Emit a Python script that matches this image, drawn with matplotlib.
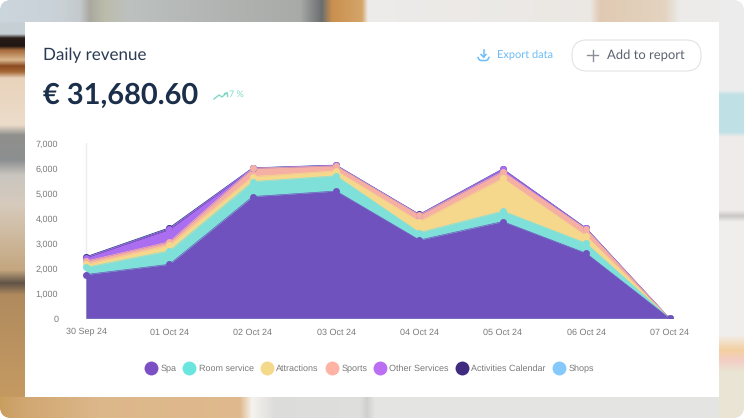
import numpy as np
import matplotlib.pyplot as plt
from matplotlib.pyplot import figure
from matplotlib.colors import to_rgb
from matplotlib.patches import FancyBboxPatch
from matplotlib.lines import Line2D

plt.rcParams['text.hinting'] = 'no_hinting'
plt.rcParams['text.hinting_factor'] = 1

days = ['30 Sep 24', '01 Oct 24', '02 Oct 24', '03 Oct 24', '04 Oct 24', '05 Oct 24', '06 Oct 24', '07 Oct 24']
names = ['Spa', 'Room service', 'Attractions', 'Sports', 'Other Services', 'Activities Calendar', 'Shops']
colors = ['#6f52bd', '#7fe0da', '#f5d88c', '#f5b0a3', '#ab6ef0', '#3b2a7d', '#85c8fb']
legend_colors = ['#7c4fc4', '#6be6df', '#f5d98a', '#ffb3a5', '#bb6ef2', '#3f2c80', '#85c8fb']
revenue = np.array([
    [1750, 2160, 4870, 5090, 3130, 3870, 2600, 0],
    [290, 540, 600, 610, 300, 420, 400, 0],
    [120, 230, 200, 200, 440, 1310, 290, 0],
    [130, 130, 330, 200, 260, 270, 280, 0],
    [140, 500, 10, 20, 20, 100, 30, 0],
    [30, 60, 5, 5, 5, 5, 5, 0],
    [0, 0, 10, 10, 5, 5, 5, 0],
])


# blurred photo behind the card, one strip per margin, colour blended pixel by pixel
def strip(nodes, x0, x1, y0, y1, vertical, clip):
    pos = [n[0] for n in nodes]
    rgb = np.array([to_rgb(n[1]) for n in nodes])
    edges = np.arange(pos[0], pos[-1] + 1)
    mid = (edges[:-1] + edges[1:]) / 2
    shades = np.stack([np.interp(mid, pos, rgb[:, k]) for k in range(3)], axis=1)
    if vertical:
        mesh = plt.pcolormesh([x0, x1], edges, shades[:, None, :])
    else:
        mesh = plt.pcolormesh(edges, [y0, y1], shades[None, :, :])
    mesh.set_clip_path(clip)


figure(figsize=(7.44, 4.18), dpi=100)
plt.axes([0, 0, 1, 1])
plt.xlim(0, 744)
plt.ylim(418, 0)
plt.axis('off')
photo = FancyBboxPatch((10, 10), 724, 398, boxstyle='round,pad=10,rounding_size=12', fc='white', ec='none')
plt.gca().add_patch(photo)

strip([(0, '#c9d3da'), (34, '#c4ced3'), (38, '#2a1d18'), (46, '#1f1512'), (50, '#a5683a'), (60, '#d9b68c'),
       (66, '#8a4a20'), (72, '#a86a38'), (78, '#e8d2bb'), (125, '#ebdcca'), (135, '#8f8f8c'), (160, '#8c8f90'),
       (175, '#c9c5bf'), (205, '#d6cabb'), (270, '#c4a67f'), (283, '#5f5346'), (295, '#b08a5e'), (418, '#c99d62')],
      0, 25, 0, 418, True, photo)
strip([(0, '#cbd5dc'), (60, '#c9d1d7'), (80, '#c3c9cc'), (90, '#a9a89f'), (105, '#bcbcab'), (130, '#bcc0bf'),
       (200, '#b3b6b4'), (300, '#a8aaa8'), (322, '#6a6d6e'), (332, '#c98f4e'), (362, '#d4a468'), (368, '#ecebe9'),
       (590, '#ebe7e3'), (600, '#e0c9b2'), (665, '#e3d3c0'), (680, '#ecebe9'), (744, '#ecebe9')],
      0, 744, 0, 22, False, photo)
strip([(0, '#c99d5e'), (22, '#d0a670'), (100, '#dcb78a'), (240, '#dfb98d'), (252, '#f4f2ee'), (275, '#dcdcda'),
       (360, '#dededc'), (367, '#cfcfcd'), (375, '#e4e4e2'), (744, '#e4e4e2')],
      0, 744, 397, 418, False, photo)
strip([(0, '#ececec'), (90, '#ececec'), (95, '#bfe0e4'), (132, '#bfe0e4'), (137, '#efebea'), (210, '#efebea'),
       (216, '#c9c7c5'), (222, '#f0eeec'), (335, '#f0eeec'), (350, '#f3cf9f'), (360, '#f3cdc4'), (372, '#e9e4d3'),
       (418, '#e9e4d3')], 719, 744, 0, 418, True, photo)

plt.gca().add_patch(FancyBboxPatch((31, 28), 682, 363, boxstyle='round,pad=6,rounding_size=6', fc='white', ec='none', zorder=3))

# header
plt.text(43, 55.5, 'Daily revenue', family='Lato', fontsize=12.4, color='#2a3a52', va='center', zorder=4)
plt.text(43, 95.5, '€ 31,680.60', family='Lato', fontsize=20.8, weight='bold', color='#1b2f4b', va='center', zorder=4)
plt.plot([214, 219, 222, 227], [99, 95, 97, 92.5], color='#7fd8c5', lw=1, zorder=4)
plt.plot([223.5, 227, 227], [92.5, 92.5, 96], color='#7fd8c5', lw=1, zorder=4)
plt.text(229, 94.5, '7 %', family='Lato', fontsize=6.8, color='#7fd8c5', va='center', zorder=4)

# export link and button
plt.plot([478, 479.5, 481, 486, 487.5, 489], [57.5, 60, 60.5, 60.5, 60, 57.5], color='#6cbcf7', lw=1.1, zorder=4)
plt.plot([483.5, 483.5], [50, 57], color='#6cbcf7', lw=1.1, zorder=4)
plt.plot([481, 483.5, 486], [54.5, 57, 54.5], color='#6cbcf7', lw=1.1, zorder=4)
plt.text(497, 54.5, 'Export data', family='Lato', fontsize=8.1, color='#6cbcf7', va='center', zorder=4)
plt.gca().add_patch(FancyBboxPatch((587, 55), 99, 1, boxstyle='round,pad=15,rounding_size=15', fc='white', ec='#e3e3e3', lw=0.8, zorder=4))
plt.plot([592.5, 592.5], [49.5, 61], color='#8a8f98', lw=1, zorder=5)
plt.plot([587, 598], [55.2, 55.2], color='#8a8f98', lw=1, zorder=5)
plt.text(607, 55.5, 'Add to report', family='Lato', fontsize=9.1, color='#5a6270', va='center', zorder=5)

# the chart itself, little room left and right so the end dots show
step = (669.5 - 86) / 7
plt.axes([(86 - 0.1 * step) / 744, (418 - 318.3) / 418, 7.2 * step / 744, 175 / 418])
plt.gca().patch.set_alpha(0)
x = np.arange(len(days))
totals = np.cumsum(revenue, axis=0)
plt.axvline(0, color='#ececec', lw=1, zorder=0)
for i in range(len(names) - 1, -1, -1):  # top layer first, Spa ends up in front
    plt.fill_between(x, 0, totals[i], color=colors[i], lw=0)
    plt.plot(x, totals[i], color=colors[i], lw=0.5, marker='o', ms=5, mew=0)
plt.xlim(-0.1, 7.1)
plt.ylim(0, 7000)
plt.xticks(x, days, family='Liberation Sans', fontsize=6.7, color='#7a7a7a')
plt.yticks(range(0, 8000, 1000), ['{:,}'.format(v) for v in range(0, 8000, 1000)],
           family='Liberation Sans', fontsize=6.7, color='#7a7a7a')
plt.tick_params(length=0, pad=7)
plt.tick_params(axis='y', pad=14)
for side in plt.gca().spines.values():
    side.set_visible(False)

handles = [Line2D([], [], ls='', marker='o', ms=10, color=c, mew=0) for c in legend_colors]
plt.legend(handles, names, ncol=7, loc='center', bbox_to_anchor=(0.485, -0.286), frameon=False,
           prop={'family': 'Liberation Sans', 'size': 6.5}, labelcolor='#7a7a7a', handletextpad=0.25,
           columnspacing=0.63, handlelength=1.6, borderpad=0)

plt.savefig('out.png', dpi=100)
